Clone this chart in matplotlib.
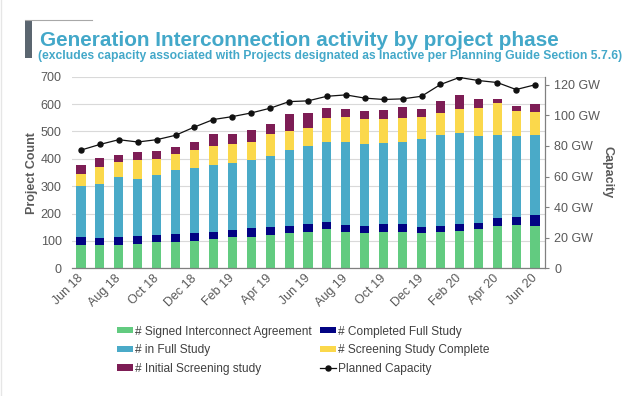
import matplotlib
matplotlib.use("Agg")
import matplotlib.pyplot as plt
from matplotlib.lines import Line2D
from matplotlib.patches import Rectangle
import numpy as np

plt.rcParams['font.family'] = ['Liberation Sans', 'DejaVu Sans']

months = ['Jun 18', 'Jul 18', 'Aug 18', 'Sep 18', 'Oct 18', 'Nov 18', 'Dec 18',
          'Jan 19', 'Feb 19', 'Mar 19', 'Apr 19', 'May 19', 'Jun 19', 'Jul 19',
          'Aug 19', 'Sep 19', 'Oct 19', 'Nov 19', 'Dec 19', 'Jan 20', 'Feb 20',
          'Mar 20', 'Apr 20', 'May 20', 'Jun 20']

signed = [85, 85, 85, 89, 95, 97, 101, 106, 116, 116, 121, 129, 134, 143, 134,
          129, 133, 133, 128, 133, 138, 143, 155, 157, 155]
completed = [29, 27, 31, 29, 27, 28, 29, 27, 23, 33, 30, 27, 27, 25, 24, 26, 29,
             28, 22, 23, 25, 23, 29, 31, 39]
in_full = [188, 196, 218, 210, 219, 235, 237, 244, 245, 246, 259, 277, 284, 293,
           303, 298, 295, 301, 324, 331, 333, 318, 303, 296, 293]
screening_complete = [44, 61, 56, 67, 60, 59, 65, 68, 70, 66, 79, 69, 69, 89, 91,
                      92, 88, 88, 78, 79, 87, 103, 117, 90, 83]
initial_screening = [31, 33, 24, 30, 27, 25, 31, 44, 37, 44, 39, 61, 53, 35, 31,
                     28, 35, 38, 31, 45, 49, 32, 15, 19, 32]
planned_capacity_gw = [77.3, 81.0, 84.1, 82.6, 84.1, 87.0, 92.4, 97.3, 99.2, 101.6,
                       104.7, 109.0, 109.5, 112.5, 113.4, 111.3, 110.4, 110.8,
                       112.5, 120.2, 124.8, 122.8, 121.5, 116.9, 120.0]

series = [
    ('# Signed Interconnect Agreement', signed, '#62CB80'),
    ('# Completed Full Study', completed, '#020383'),
    ('# in Full Study', in_full, '#4AAAC8'),
    ('# Screening Study Complete', screening_complete, '#FBD84B'),
    ('# Initial Screening study', initial_screening, '#7D1D55'),
]

W, H = 641, 396
fig = plt.figure(figsize=(W / 100, H / 100), dpi=100)
fig.patch.set_facecolor('white')

def fx(px):
    return px / W

def fy(py):
    return 1 - py / H

ax_l, ax_r, ax_t, ax_b = 71.5, 544.5, 76.7, 268.3
ax = fig.add_axes([fx(ax_l), fy(ax_b), fx(ax_r - ax_l), (ax_b - ax_t) / H])

x = np.arange(len(months))
bottom = np.zeros(len(months))
handles = {}
for name, vals, col in series:
    v = np.array(vals, dtype=float)
    b = ax.bar(x, v, width=0.48, bottom=bottom, color=col, label=name, zorder=2)
    handles[name] = b
    bottom += v

ax.set_xlim(-0.5, len(months) - 0.5)
ax.set_ylim(0, 700)
ax.set_yticks(np.arange(0, 701, 100))
ax.yaxis.grid(True, color='#D9D9D9', lw=0.8, zorder=0)
ax.set_axisbelow(True)
for s in ['left', 'top', 'right']:
    ax.spines[s].set_visible(False)
ax.spines['bottom'].set_color('#808080')
ax.spines['bottom'].set_linewidth(0.9)
ax.tick_params(axis='y', length=0, pad=7, labelsize=9, labelcolor='#595959')
ax.set_xticks(x[::2])
ax.set_xticklabels(months[::2], rotation=45, ha='right', va='center',
                   rotation_mode='anchor')
ax.tick_params(axis='x', length=0, pad=6, labelsize=9, labelcolor='#595959')

ax2 = ax.twinx()
ax2.set_ylim(0, 125.3)
ax2.set_yticks(np.arange(0, 121, 20))
ax2.set_yticklabels(['0'] + [f'{v} GW' for v in range(20, 121, 20)])
for s in ['left', 'top', 'bottom']:
    ax2.spines[s].set_visible(False)
ax2.spines['right'].set_color('#808080')
ax2.spines['right'].set_linewidth(0.9)
ax2.tick_params(axis='y', length=3, width=0.8, color='#808080', pad=4,
                labelsize=9, labelcolor='#595959')
line, = ax2.plot(x, planned_capacity_gw, color='#111111', lw=0.9, marker='o',
                 ms=3.6, label='Planned Capacity', zorder=3)

fig.text(fx(32), fy(173), 'Project Count', rotation=90, ha='center', va='center',
         fontsize=9, fontweight='bold', color='#595959')
fig.text(fx(607), fy(172), 'Capacity', rotation=270, ha='center', va='center',
         fontsize=9, fontweight='bold', color='#595959')

# title decoration
fig.add_artist(Rectangle((fx(25), fy(58)), fx(6.5), (58 - 20) / H,
                         transform=fig.transFigure, color='#5B6670', lw=0))
fig.add_artist(Line2D([fx(25), fx(92)], [fy(20), fy(20)], transform=fig.transFigure,
                      color='#A8A8A8', lw=0.8))
fig.add_artist(Line2D([fx(1.2), fx(1.2)], [0, 1], transform=fig.transFigure,
                      color='#E6E6E6', lw=1.0))

title_col = '#43A8C9'
t1 = fig.text(fx(40), fy(45.5), 'Generation Interconnection activity by project phase',
              ha='left', va='baseline', fontsize=15, fontweight='bold', color=title_col)
t2 = fig.text(fx(38.5), fy(59),
              '(excludes capacity associated with Projects designated as Inactive per Planning Guide Section 5.7.6)',
              ha='left', va='baseline', fontsize=9, fontweight='bold', color=title_col)

# fit title widths to reference
renderer = fig.canvas.get_renderer()
for t, target in [(t1, 518), (t2, 588)]:
    for _ in range(3):
        w = t.get_window_extent(renderer).width
        t.set_fontsize(t.get_fontsize() * target / w)

order = ['# Signed Interconnect Agreement', '# in Full Study', '# Initial Screening study',
         '# Completed Full Study', '# Screening Study Complete']
hl = [handles[n] for n in order] + [line]
ll = order + ['Planned Capacity']
leg = fig.legend(hl, ll, ncol=2, loc='upper left',
                 bbox_to_anchor=(fx(116.7), fy(325.5)), frameon=False,
                 fontsize=8.6, handlelength=1.4, handleheight=0.45,
                 handletextpad=0.15, columnspacing=0.65, labelspacing=0.55,
                 borderpad=0, borderaxespad=0)
for txt in leg.get_texts():
    txt.set_color('#404040')

fig.savefig('out.png', dpi=100, facecolor='white')
